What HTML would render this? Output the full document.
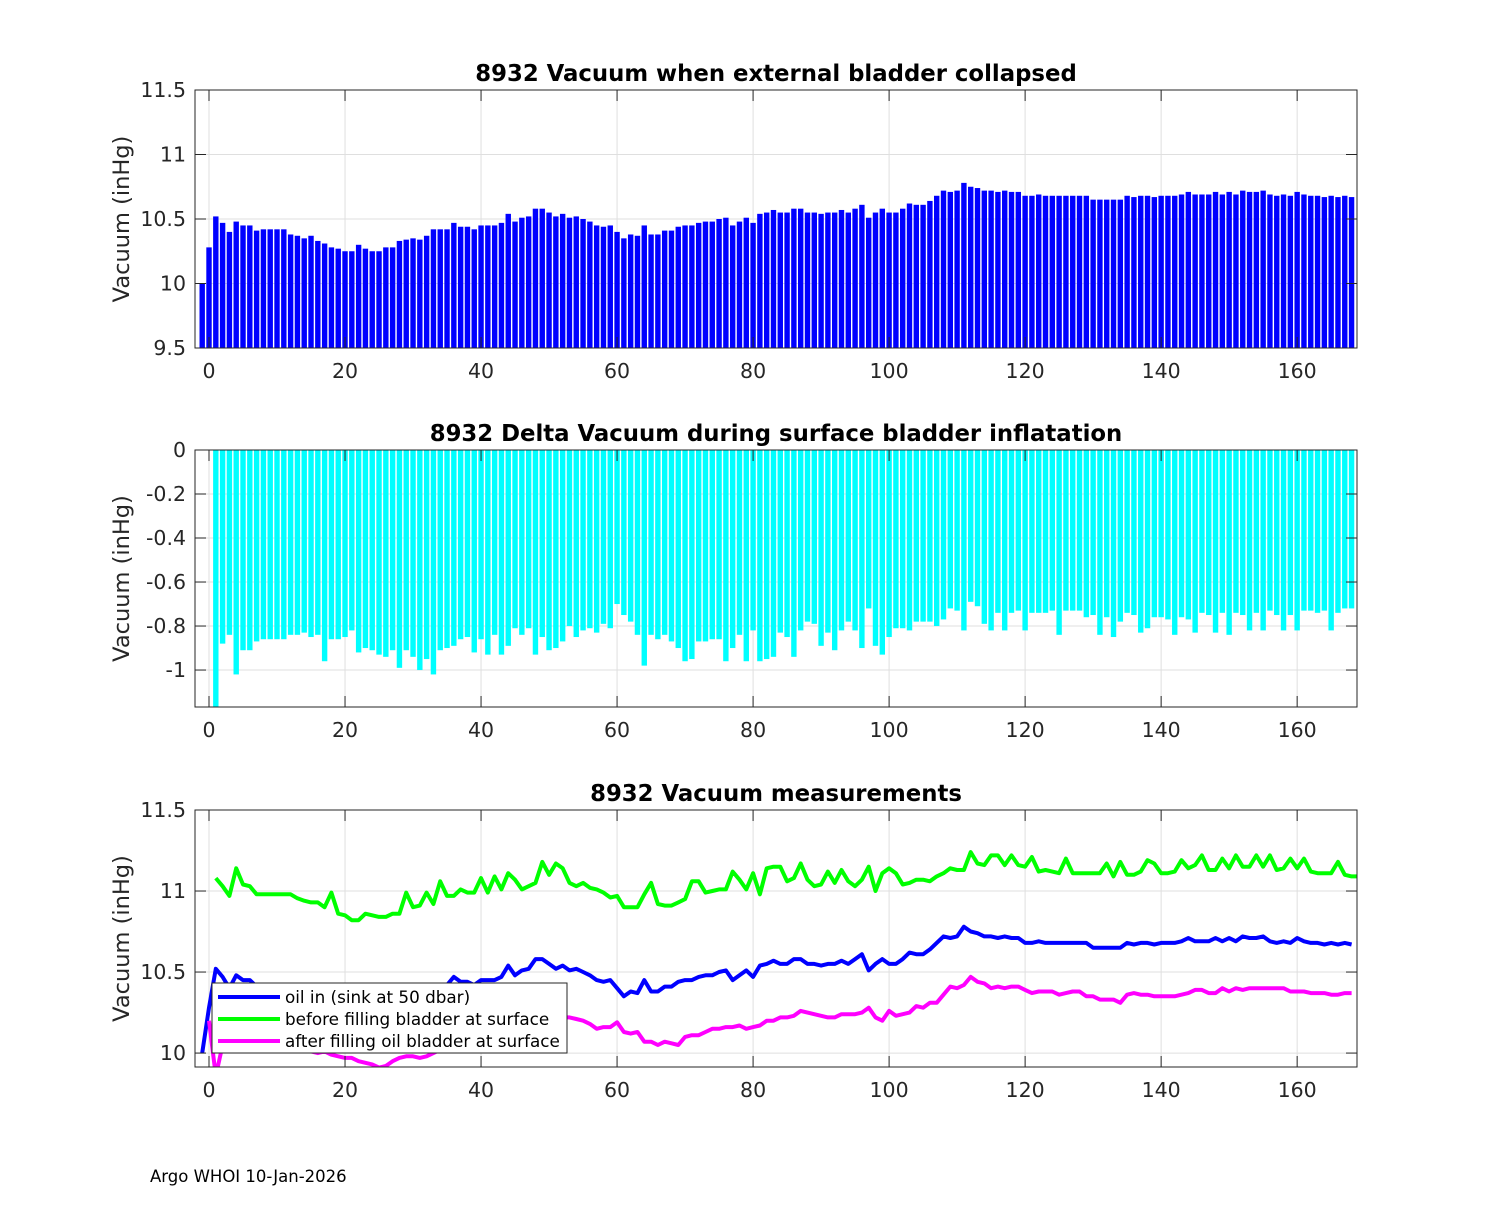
<!DOCTYPE html>
<html><head><meta charset="utf-8"><style>
body{margin:0;background:#fff;}
svg text{font-family:"DejaVu Sans","Liberation Sans",sans-serif;fill:#262626;}
</style></head><body>
<svg id="fig" width="1500" height="1200" xmlns="http://www.w3.org/2000/svg">
<rect width="1500" height="1200" fill="#fff"/>
<text x="150" y="1182" font-size="16.5" style="fill:#000">Argo WHOI 10-Jan-2026</text>
</svg>
<script>
const vacuumX0 = -1;
const vacuum = [10.00,10.28,10.52,10.47,10.40,10.48,10.45,10.45,10.41,10.42,10.42,10.42,10.42,10.38,10.37,10.35,10.37,10.33,10.31,10.28,10.27,10.25,10.25,10.30,10.27,10.25,10.25,10.28,10.28,10.33,10.34,10.35,10.34,10.37,10.42,10.42,10.42,10.47,10.44,10.44,10.42,10.45,10.45,10.45,10.47,10.54,10.48,10.51,10.52,10.58,10.58,10.55,10.52,10.54,10.51,10.52,10.50,10.48,10.45,10.44,10.45,10.40,10.35,10.38,10.37,10.45,10.38,10.38,10.41,10.41,10.44,10.45,10.45,10.47,10.48,10.48,10.50,10.51,10.45,10.48,10.51,10.47,10.54,10.55,10.57,10.55,10.55,10.58,10.58,10.55,10.55,10.54,10.55,10.55,10.57,10.55,10.58,10.61,10.51,10.55,10.58,10.55,10.55,10.58,10.62,10.61,10.61,10.64,10.68,10.72,10.71,10.72,10.78,10.75,10.74,10.72,10.72,10.71,10.72,10.71,10.71,10.68,10.68,10.69,10.68,10.68,10.68,10.68,10.68,10.68,10.68,10.65,10.65,10.65,10.65,10.65,10.68,10.67,10.68,10.68,10.67,10.68,10.68,10.68,10.69,10.71,10.69,10.69,10.69,10.71,10.69,10.71,10.69,10.72,10.71,10.71,10.72,10.69,10.68,10.69,10.68,10.71,10.69,10.68,10.68,10.67,10.68,10.67,10.68,10.67];
const deltaX0 = 1;
const delta = [-1.20,-0.88,-0.84,-1.02,-0.91,-0.91,-0.87,-0.86,-0.86,-0.86,-0.86,-0.84,-0.84,-0.83,-0.85,-0.84,-0.96,-0.86,-0.86,-0.85,-0.82,-0.92,-0.90,-0.91,-0.93,-0.94,-0.91,-0.99,-0.91,-0.94,-1.00,-0.95,-1.02,-0.91,-0.90,-0.89,-0.86,-0.85,-0.92,-0.86,-0.93,-0.84,-0.93,-0.89,-0.81,-0.84,-0.81,-0.93,-0.85,-0.91,-0.90,-0.87,-0.80,-0.85,-0.82,-0.81,-0.83,-0.79,-0.81,-0.70,-0.75,-0.78,-0.84,-0.98,-0.84,-0.86,-0.84,-0.87,-0.90,-0.96,-0.95,-0.87,-0.87,-0.86,-0.86,-0.96,-0.90,-0.84,-0.96,-0.82,-0.96,-0.95,-0.94,-0.83,-0.85,-0.94,-0.82,-0.78,-0.79,-0.89,-0.83,-0.91,-0.82,-0.78,-0.82,-0.90,-0.72,-0.89,-0.93,-0.85,-0.81,-0.81,-0.82,-0.78,-0.78,-0.78,-0.80,-0.77,-0.72,-0.73,-0.82,-0.69,-0.71,-0.79,-0.82,-0.74,-0.82,-0.74,-0.73,-0.82,-0.74,-0.74,-0.74,-0.73,-0.84,-0.73,-0.73,-0.73,-0.76,-0.75,-0.84,-0.76,-0.85,-0.78,-0.74,-0.75,-0.83,-0.81,-0.76,-0.76,-0.77,-0.84,-0.76,-0.77,-0.83,-0.74,-0.75,-0.83,-0.74,-0.84,-0.74,-0.75,-0.82,-0.74,-0.82,-0.73,-0.75,-0.82,-0.75,-0.82,-0.73,-0.73,-0.74,-0.73,-0.82,-0.74,-0.72,-0.72];
const beforeX0 = 1;
const beforeFill = [11.08,11.03,10.97,11.14,11.04,11.03,10.98,10.98,10.98,10.98,10.98,10.98,10.955,10.94,10.93,10.93,10.90,10.99,10.86,10.85,10.82,10.82,10.86,10.85,10.84,10.84,10.86,10.86,10.99,10.90,10.91,10.99,10.92,11.06,10.97,10.97,11.01,10.99,10.99,11.08,10.99,11.09,11.01,11.11,11.07,11.01,11.03,11.05,11.18,11.10,11.17,11.14,11.05,11.03,11.05,11.02,11.01,10.99,10.96,10.97,10.90,10.90,10.90,10.98,11.05,10.92,10.91,10.91,10.93,10.95,11.06,11.06,10.99,11.00,11.01,11.01,11.12,11.07,11.01,11.11,10.98,11.14,11.15,11.15,11.06,11.08,11.17,11.07,11.03,11.04,11.12,11.05,11.13,11.06,11.03,11.07,11.15,11.00,11.11,11.14,11.11,11.04,11.05,11.07,11.07,11.06,11.09,11.11,11.14,11.13,11.13,11.24,11.17,11.16,11.22,11.22,11.16,11.22,11.16,11.15,11.21,11.12,11.13,11.12,11.11,11.20,11.11,11.11,11.11,11.11,11.11,11.17,11.09,11.18,11.10,11.10,11.12,11.19,11.17,11.11,11.11,11.12,11.19,11.14,11.16,11.22,11.13,11.13,11.20,11.14,11.22,11.15,11.15,11.22,11.15,11.22,11.13,11.14,11.20,11.14,11.20,11.12,11.11,11.11,11.11,11.18,11.10,11.09,11.09];
const afterX0 = 0;
const afterFill = [10.20,9.86,10.05,10.04,10.06,10.05,10.05,10.04,10.04,10.04,10.04,10.03,10.03,10.02,10.02,10.01,10.00,10.01,9.99,9.98,9.97,9.97,9.95,9.94,9.93,9.91,9.92,9.95,9.97,9.98,9.98,9.97,9.98,10.00,10.02,10.03,10.06,10.06,10.07,10.08,10.09,10.10,10.10,10.11,10.12,10.15,10.15,10.17,10.18,10.21,10.22,10.23,10.22,10.22,10.21,10.20,10.18,10.15,10.16,10.16,10.19,10.13,10.12,10.13,10.07,10.07,10.05,10.07,10.06,10.05,10.10,10.11,10.11,10.13,10.15,10.15,10.16,10.16,10.17,10.15,10.16,10.17,10.20,10.20,10.22,10.22,10.23,10.26,10.25,10.24,10.23,10.22,10.22,10.24,10.24,10.24,10.25,10.28,10.22,10.20,10.26,10.23,10.24,10.25,10.29,10.28,10.31,10.31,10.36,10.41,10.40,10.42,10.47,10.44,10.43,10.40,10.41,10.40,10.41,10.41,10.39,10.37,10.38,10.38,10.38,10.36,10.37,10.38,10.38,10.35,10.35,10.33,10.33,10.33,10.31,10.36,10.37,10.36,10.36,10.35,10.35,10.35,10.35,10.36,10.37,10.39,10.39,10.37,10.37,10.40,10.38,10.40,10.39,10.40,10.40,10.40,10.40,10.40,10.40,10.38,10.38,10.38,10.37,10.37,10.37,10.36,10.36,10.37,10.37];
const xTicks = [0,20,40,60,80,100,120,140,160];
const yTicks1 = [9.5,10,10.5,11,11.5];
const yTickLabels1 = ['9.5','10','10.5','11','11.5'];
const yTicks2 = [-1,-0.8,-0.6,-0.4,-0.2,0];
const yTickLabels2 = ['-1','-0.8','-0.6','-0.4','-0.2','0'];
const yTicks3 = [10,10.5,11,11.5];
const yTickLabels3 = ['10','10.5','11','11.5'];
const legendLabels = ['oil in (sink at 50 dbar)','before filling bladder at surface','after filling oil bladder at surface'];

const NS='http://www.w3.org/2000/svg';
const svg=document.getElementById('fig');
function mk(tag,attrs,parent){const e=document.createElementNS(NS,tag);for(const k in attrs)e.setAttribute(k,attrs[k]);(parent||svg).appendChild(e);return e;}
const L=195,R=1357,XMIN=-2.06,XMAX=168.8;
const sx=v=>L+(v-XMIN)/(XMAX-XMIN)*(R-L);
const panels=[
 {top:90,bot:348,ymin:9.5,ymax:11.5,ticks:yTicks1,labels:yTickLabels1,title:'8932 Vacuum when external bladder collapsed',name:'collapsed-panel'},
 {top:450,bot:707,ymin:-1.168,ymax:0,ticks:yTicks2,labels:yTickLabels2,title:'8932 Delta Vacuum during surface bladder inflatation',name:'delta-panel'},
 {top:810,bot:1067,ymin:9.914,ymax:11.5,ticks:yTicks3,labels:yTickLabels3,title:'8932 Vacuum measurements',name:'measurements-panel'}];
panels.forEach((p,i)=>{
 p.sy=v=>p.bot-(v-p.ymin)/(p.ymax-p.ymin)*(p.bot-p.top);
 const g=mk('g',{});
 
 
 p.g=g;
 const cp=mk('clipPath',{id:'clip'+i},g);mk('rect',{x:L,y:p.top,width:R-L,height:p.bot-p.top},cp);
 xTicks.forEach(t=>{const ln=mk('line',{x1:sx(t),x2:sx(t),y1:p.top,y2:p.bot,stroke:'#dfdfdf','stroke-width':1},g);});
 p.ticks.forEach(t=>{const ln=mk('line',{x1:L,x2:R,y1:p.sy(t),y2:p.sy(t),stroke:'#dfdfdf','stroke-width':1},g);});
 p.plot=mk('g',{'clip-path':'url(#clip'+i+')'},g);
});
const bw=5.4;
vacuum.forEach((v,i)=>{const p=panels[0];const x=vacuumX0+i;const y=p.sy(v);
 const r=mk('rect',{x:sx(x)-bw/2,y:y,width:bw,height:p.bot-y,fill:'#0000ff'},p.plot);
 
 });
delta.forEach((v,i)=>{const p=panels[1];const x=deltaX0+i;const y0=p.sy(0),y=p.sy(v);
 const r=mk('rect',{x:sx(x)-bw/2,y:y0,width:bw,height:y-y0,fill:'#00ffff'},p.plot);
 
 });
const p3=panels[2];
const series=[[vacuum,vacuumX0,'#0000ff','oil-in-line'],[beforeFill,beforeX0,'#00ff00','before-fill-line'],[afterFill,afterX0,'#ff00ff','after-fill-line']];
series.forEach(s=>{const pts=s[0].map((v,i)=>sx(s[1]+i).toFixed(1)+','+p3.sy(v).toFixed(1)).join(' ');
 const pl=mk('polyline',{points:pts,fill:'none',stroke:s[2],'stroke-width':4,'stroke-linejoin':'round'},p3.plot);
 
 });
panels.forEach(p=>{const g=p.g;
 const box=mk('rect',{x:L,y:p.top,width:R-L,height:p.bot-p.top,fill:'none',stroke:'#262626','stroke-width':1},g);
 
 xTicks.forEach(t=>{mk('line',{x1:sx(t),x2:sx(t),y1:p.bot,y2:p.bot-11,stroke:'#262626'},g);mk('line',{x1:sx(t),x2:sx(t),y1:p.top,y2:p.top+11,stroke:'#262626'},g);
  const tx=mk('text',{x:sx(t),y:p.bot+30,'text-anchor':'middle','font-size':20.5},g);tx.textContent=t;
  });
 p.ticks.forEach((t,j)=>{const y=p.sy(t);mk('line',{x1:L,x2:L+11,y1:y,y2:y,stroke:'#262626'},g);mk('line',{x1:R,x2:R-11,y1:y,y2:y,stroke:'#262626'},g);
  const tx=mk('text',{x:L-9,y:y+7,'text-anchor':'end','font-size':20.5},g);tx.textContent=p.labels[j];
  });
 const yl=mk('text',{x:0,y:0,transform:`translate(129,${(p.top+p.bot)/2}) rotate(-90)`,'text-anchor':'middle','font-size':22.5},g);yl.textContent='Vacuum (inHg)';
 
 const tt=mk('text',{x:(L+R)/2,y:p.top-9,'text-anchor':'middle','font-size':22.8,'font-weight':'bold'},g);tt.textContent=p.title;
 tt.style.fill='#000';
 
});
const lg=mk('g',{});


mk('rect',{x:212,y:983,width:355,height:70,fill:'#fff',stroke:'#262626','stroke-width':1},lg);
legendLabels.forEach((lab,i)=>{const y=997+i*22;
 const e=mk('g',{},lg);
 
 
 mk('line',{x1:218,x2:280,y1:y,y2:y,stroke:series[i][2],'stroke-width':4},e);
 const t=mk('text',{x:285,y:y+6,'font-size':16.8},e);t.textContent=lab;t.style.fill='#000';});
</script>
</body></html>
